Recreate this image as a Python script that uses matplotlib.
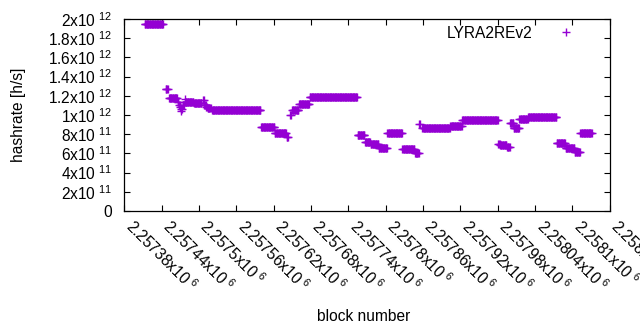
import numpy as np
import matplotlib
matplotlib.use('Agg')
import matplotlib.pyplot as plt
import matplotlib.transforms as mtransforms
from matplotlib.ticker import FixedLocator

plt.rcParams['font.family'] = ['Liberation Sans', 'DejaVu Sans']
plt.rcParams['mathtext.fontset'] = 'custom'
plt.rcParams['mathtext.rm'] = 'Liberation Sans'

# runs of blocks with (roughly) constant hashrate
seg_start = [2257413, 2257447, 2257452, 2257466, 2257468, 2257470, 2257471, 2257472,
             2257474, 2257477, 2257478, 2257492, 2257507, 2257509, 2257512, 2257514,
             2257521, 2257600, 2257622, 2257641, 2257647, 2257650, 2257661, 2257678,
             2257755, 2257767, 2257776, 2257789, 2257803, 2257827, 2257847, 2257854,
             2257859, 2257904, 2257923, 2257981, 2257984, 2257995, 2258000, 2258006,
             2258015, 2258029, 2258075, 2258089, 2258104, 2258113]
seg_end = [2257442, 2257450, 2257465, 2257467, 2257469, 2257470, 2257471, 2257473,
           2257476, 2257477, 2257491, 2257504, 2257508, 2257511, 2257513, 2257519,
           2257599, 2257621, 2257640, 2257643, 2257648, 2257660, 2257677, 2257754,
           2257766, 2257775, 2257788, 2257802, 2257826, 2257846, 2257853, 2257855,
           2257903, 2257922, 2257980, 2257983, 2257994, 2257999, 2258005, 2258014,
           2258028, 2258074, 2258088, 2258103, 2258112, 2258131]
seg_rate = [1.943e12, 1.268e12, 1.174e12, 1.14e12, 1.10e12, 1.086e12, 1.045e12, 1.06e12,
            1.10e12, 1.164e12, 1.139e12, 1.12e12, 1.156e12, 1.10e12, 1.086e12, 1.07e12,
            1.049e12, 0.872e12, 0.81e12, 0.77e12, 1.0e12, 1.05e12, 1.11e12, 1.184e12,
            0.79e12, 0.722e12, 0.695e12, 0.653e12, 0.81e12, 0.643e12, 0.607e12, 0.906e12,
            0.861e12, 0.885e12, 0.948e12, 0.70e12, 0.688e12, 0.67e12, 0.913e12, 0.868e12,
            0.955e12, 0.976e12, 0.711e12, 0.653e12, 0.618e12, 0.81e12]

x_ticks = [2257380, 2257440, 2257500, 2257560, 2257620, 2257680, 2257740,
           2257800, 2257860, 2257920, 2257980, 2258040, 2258100, 2258160]
x_labels = ['2.25738', '2.25744', '2.2575', '2.25756', '2.25762', '2.25768', '2.25774',
            '2.2578', '2.25786', '2.25792', '2.25798', '2.25804', '2.2581', '2.25816']
y_ticks = [0, 2e11, 4e11, 6e11, 8e11, 1e12, 1.2e12, 1.4e12, 1.6e12, 1.8e12, 2e12]
y_labels = ['0', '2x10^{11}', '4x10^{11}', '6x10^{11}', '8x10^{11}', '1x10^{12}',
            '1.2x10^{12}', '1.4x10^{12}', '1.6x10^{12}', '1.8x10^{12}', '2x10^{12}']

blocks = []
rates = []
for s, e, r in zip(seg_start, seg_end, seg_rate):
    for b in range(s, e + 1):
        blocks.append(b)
        rates.append(r)

fig = plt.figure(figsize=(6.4, 3.3), dpi=100)
ax = fig.add_axes([0.194, 0.3606, 0.7587, 0.5818])

ax.plot(blocks, rates, linestyle='none', marker='+', color='#9400d3',
        markersize=5.5, markeredgewidth=1.0, label='LYRA2REv2')

ax.set_xlim(2257380, 2258160)
ax.set_ylim(0, 2e12)

def ylab(s):
    if s == '0':
        return '0'
    base, exp = s.split('^')
    return r'$\mathregular{' + base + r'^{\ ' + exp.strip('{}') + '}}$'

ax.yaxis.set_major_locator(FixedLocator(y_ticks))
ax.set_yticklabels([ylab(s) for s in y_labels])
ax.xaxis.set_major_locator(FixedLocator(x_ticks))
ax.set_xticklabels([r'$\mathregular{' + s + r'x10^{\ 6}}$' for s in x_labels],
                   rotation=-45, ha='left', va='top', rotation_mode='anchor')

ax.tick_params(direction='in', top=True, right=True, length=4.5, width=0.8,
               labelsize=11.2, colors='black')
ax.tick_params(axis='y', pad=9)
ax.tick_params(axis='x', pad=4)
shift = mtransforms.ScaledTranslation(11 / 100, 0, fig.dpi_scale_trans)
for lab in ax.get_xticklabels():
    lab.set_transform(lab.get_transform() + shift)
for sp in ax.spines.values():
    sp.set_linewidth(0.9)

ax.set_xlabel('block number', fontsize=11.2, va='center')
ax.xaxis.set_label_coords(0.494, -0.547)
ax.set_ylabel('hashrate [h/s]', fontsize=11.2, va='center')
ax.yaxis.set_label_coords(-0.217, 0.5)

ax.legend(loc='upper right', bbox_to_anchor=(0.943, 0.964), frameon=False,
          markerfirst=False, fontsize=11.2, handlelength=2, handletextpad=1.2,
          borderpad=0, borderaxespad=0)

fig.savefig('out.png', dpi=100)
